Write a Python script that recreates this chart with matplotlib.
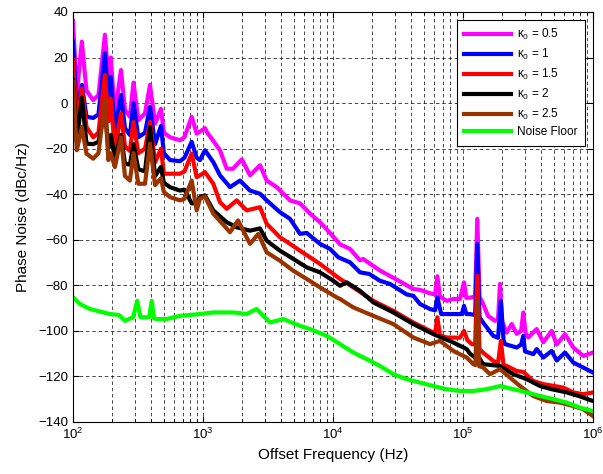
import numpy as np
import matplotlib
matplotlib.use('Agg')
import matplotlib.pyplot as plt

plt.rcParams['font.family'] = ['Liberation Sans', 'DejaVu Sans']
plt.rcParams['mathtext.fontset'] = 'custom'
plt.rcParams['mathtext.rm'] = 'Liberation Sans'
plt.rcParams['mathtext.it'] = 'Liberation Sans'
plt.rcParams['mathtext.bf'] = 'Liberation Sans:bold'

# kappa0 = 0.5
f_k05 = [100, 107, 117, 127, 143, 157, 176, 187, 195, 210, 234, 251, 274, 292, 318, 358,
         391, 428, 475, 500, 558, 665, 720, 818, 894, 948, 1036, 1070, 1190, 1351, 1522,
         1700, 1990, 2300, 2750, 3090, 3690, 4669, 5574, 6655, 7943, 9483, 11320, 13510,
         16130, 17010, 22990, 30900, 41470, 46690, 55740, 61000, 63500, 66500, 74920,
         84230, 94830, 101800, 106000, 113200, 124000, 128800, 134000, 142500, 155700,
         176300, 186000, 192600, 200000, 216900, 236900, 258900, 280000, 290900, 303000,
         317900, 368900, 414700, 481100, 525800, 609000, 705600, 842300, 1000000]
pn_k05 = [36, 4, 27, 5.5, 1.3, 3.5, 30, 11.5, 20, -4.5, 14.5, -3, -6, 9, -7.5, -4.5,
          8, -9, -2.5, -13, -15, -16.3, -15, -6, -13.4, -12.5, -11, -12.7, -16.3, -20.7, -28.8,
          -28.8, -24.7, -31.7, -27.3, -34, -36.9, -42.7, -44, -48.5, -52.3, -57, -62, -64,
          -69, -68.4, -73.5, -77.5, -81.6, -82, -83.5, -84, -76, -85, -86.8,
          -86, -86, -78.7, -85.5, -85.4, -85, -50.8, -85, -88, -93.4,
          -95.6, -95, -79.4, -96, -100.7, -97, -101.3, -100, -91.9, -101,
          -102.9, -99.2, -105, -100, -106, -101.4, -107.3, -111, -109.5]

# kappa0 = 1
f_k1 = [100, 107, 117, 127, 143, 157, 176, 187, 195, 210, 234, 251, 274, 292, 318, 358,
        391, 428, 475, 500, 558, 665, 720, 818, 894, 948, 1036, 1200, 1351, 1613, 1926,
        2299, 2745, 3090, 3911, 4669, 5574, 6277, 7943, 9483, 10985, 13510, 16130, 19000,
        22990, 27500, 36880, 41470, 46690, 55740, 61000, 63500, 68000, 84230, 98000, 101800,
        106000, 112000, 124000, 128800, 134000, 142500, 171100, 186000, 195600, 205000,
        210400, 258900, 280000, 290900, 300000, 347400, 368900, 414700, 481100, 525800,
        609000, 705600, 842300, 1000000]
pn_k1 = [27, -3, 8, -6, -6.5, -5, 22, 2, 11.5, -12, 3.5, -11, -14, 0, -15, -13,
         -1.7, -18, -10, -22, -25, -25.5, -24, -17, -24, -25, -20.7, -25.9, -31.7, -36.9, -34,
         -38.4, -39.8, -42.7, -47.9, -50.8, -57.4, -57, -61.8, -64, -67.7, -69.9, -74.3, -75,
         -78, -79.4, -84, -84.6, -88.2, -90.4, -91, -85.3, -92.6, -92.6, -92.6, -89,
         -92.6, -92.6, -93, -61.8, -94, -96.3, -102.2, -103, -86.8, -104,
         -105.8, -107.3, -106, -102.2, -109, -110.2, -108, -111.7, -108.8, -113,
         -109.5, -113.9, -116.1, -118.3]

# kappa0 = 1.5
f_k15 = [100, 107, 117, 127, 143, 157, 176, 187, 195, 210, 234, 251, 274, 292, 318, 358,
         391, 428, 475, 500, 558, 665, 720, 818, 894, 948, 1036, 1200, 1351, 1522, 1816,
         2169, 2745, 3090, 3911, 4669, 5574, 6655, 7943, 10053, 11320, 12750, 14330, 20420,
         29100, 41470, 55740, 61000, 63500, 66500, 74920, 94830, 101800, 108000, 116700,
         124000, 128800, 134000, 142500, 171100, 186000, 195600, 205000, 216900, 258900,
         290900, 347400, 414700, 481100, 590900, 705600, 842300, 1000000]
pn_k15 = [19, -8, 6.4, -10.5, -15, -13, 12.3, -8, 2, -20.7, -4.5, -19, -21, -8.3, -22, -20,
          -8.3, -26, -20, -31, -31, -31, -30, -22.2, -32.5, -31.7, -30.3, -35.4, -43.5, -46.4, -42.7,
          -47.1, -45.7, -53, -58.9, -61.8, -64.8, -67.7, -70.6, -75, -77.2, -79, -80.9, -86.8,
          -91.2, -96.3, -100, -101, -94, -102, -102.9, -103, -100, -104, -105.8,
          -106, -75.8, -108, -109.5, -113.2, -114, -104.4, -115, -115.4, -117.6,
          -118, -122, -123.4, -124, -124.9, -127, -127.8, -127]

# kappa0 = 2
f_k2 = [100, 107, 117, 127, 143, 157, 176, 187, 195, 210, 234, 251, 274, 292, 318, 358,
        391, 428, 475, 500, 558, 665, 720, 818, 894, 948, 1036, 1200, 1522, 1816, 2299,
        2745, 3090, 3911, 4950, 6277, 7943, 10053, 11320, 12750, 16130, 20420, 29100,
        41470, 59090, 84230, 106800, 113200, 124000, 134000, 142500, 192600, 243700,
        309000, 391100, 480000, 627700, 780000, 1000000]
pn_k2 = [10, -17, 2.4, -17.8, -18, -17, -3, -20, -14, -24, -14, -26.6, -27, -18, -29, -30,
         -10.5, -32, -28, -35, -36.9, -38.4, -38, -44, -44, -41.3, -40.5, -47.1, -52.3, -54.5, -56,
         -55, -60.4, -64.8, -68.4, -72.1, -74.3, -78, -80.2, -78.7, -82.4, -87.5, -91.9,
         -97, -101.4, -105.1, -108, -110, -111.7, -112, -114.6, -115.4, -119,
         -121.2, -124.2, -125.6, -127, -128.6, -130.8]

# kappa0 = 2.5
f_k25 = [100, 107, 117, 127, 143, 157, 176, 187, 195, 210, 234, 251, 274, 292, 318, 358,
         391, 428, 475, 500, 558, 665, 720, 818, 894, 948, 1036, 1200, 1450, 1613, 1860,
         2299, 2664, 3090, 3911, 4950, 6277, 7943, 10680, 11320, 14330, 20420, 29100, 41470,
         55740, 66550, 84230, 106800, 120000, 124500, 128800, 133000, 142500, 161300,
         192600, 229900, 274500, 347400, 440300, 560000, 705600, 842300, 1000000]
pn_k25 = [9.3, -20.7, -10.5, -22.2, -24.4, -22, 1.3, -25, -22, -28.1, -15, -32, -34, -22, -35.4, -35.4,
          -17.8, -36, -33, -39, -41.3, -42.7, -42, -34, -47.1, -42, -41, -48.6, -53.7, -56.7, -51.5,
          -61.8, -57.4, -65.5, -69.2, -73.6, -77.2, -80.9, -85.3, -86, -89.7, -93.4, -97, -102.9,
          -105.8, -104.4, -108.8, -111.7, -114.6, -115, -86.8, -115.5, -116, -119,
          -116.8, -120.5, -124.2, -128.6, -130.8, -131.5, -133, -134.4, -137.4]

# noise floor
f_nf = [100, 113, 135, 161, 192, 225, 251, 290, 312, 330, 347, 385, 403, 420, 440, 526,
        665, 948, 1200, 1710, 2169, 2580, 3270, 4150, 5574, 6655, 8960, 11320, 14330,
        18170, 22990, 29100, 36880, 46690, 59090, 74920, 94830, 120000, 152200, 192600,
        243700, 309000, 391100, 500000, 627700, 794300, 1000000]
pn_nf = [-85.3, -88.2, -90.4, -91.5, -92.6, -93, -95.6, -94, -86.8, -94, -94, -94, -86.8, -94.5, -94.8, -94.8,
         -93.4, -92.6, -91.9, -91.9, -92.6, -90.4, -96.3, -94.8, -97.8, -99.2, -102.2, -105.8, -109.5,
         -112.4, -115.4, -119, -121.2, -122.7, -124.2, -125.6, -126.4, -126.4, -125.6, -124.2,
         -125.6, -127, -128.6, -130, -131.5, -133.7, -135.2]

fig = plt.figure(figsize=(6.03, 4.74), dpi=100)
ax = fig.add_axes([73/603, 52/474, 520/603, 410/474])

lw = 3
ax.semilogx(f_k05, pn_k05, color='#ff00ff', lw=lw, label=r'$\kappa_0$ = 0.5')
ax.semilogx(f_k1, pn_k1, color='#0000ff', lw=lw, label=r'$\kappa_0$ = 1')
ax.semilogx(f_k15, pn_k15, color='#ff0000', lw=lw, label=r'$\kappa_0$ = 1.5')
ax.semilogx(f_k2, pn_k2, color='#000000', lw=lw, label=r'$\kappa_0$ = 2')
ax.semilogx(f_k25, pn_k25, color='#993300', lw=lw, label=r'$\kappa_0$ = 2.5')
ax.semilogx(f_nf, pn_nf, color='#00ff00', lw=lw, label='Noise Floor')

ax.set_xlim(1e2, 1e6)
ax.set_ylim(-140, 40)
ax.set_yticks(np.arange(-140, 41, 20))
ax.grid(True, which='both', axis='x', color='k', ls=(0, (5, 4)), lw=0.5)
ax.grid(True, which='major', axis='y', color='k', ls=(0, (5, 4)), lw=0.5)
ax.tick_params(which='both', direction='in', top=True, right=True, labelsize=9.5)
ax.tick_params(which='major', length=4)
ax.tick_params(which='minor', length=2.5)
for s in ax.spines.values():
    s.set_linewidth(0.8)

ax.set_xlabel('Offset Frequency (Hz)', fontsize=11, labelpad=4)
ax.set_ylabel('Phase Noise (dBc/Hz)', fontsize=11, labelpad=6)

leg = ax.legend(loc='upper right', fontsize=8.5, handlelength=4.0, labelspacing=0.4,
                fancybox=False, framealpha=1, edgecolor='k', borderaxespad=0.7,
                handletextpad=0.5, borderpad=0.6)
leg.get_frame().set_linewidth(0.8)

fig.savefig('out.png', dpi=100)
